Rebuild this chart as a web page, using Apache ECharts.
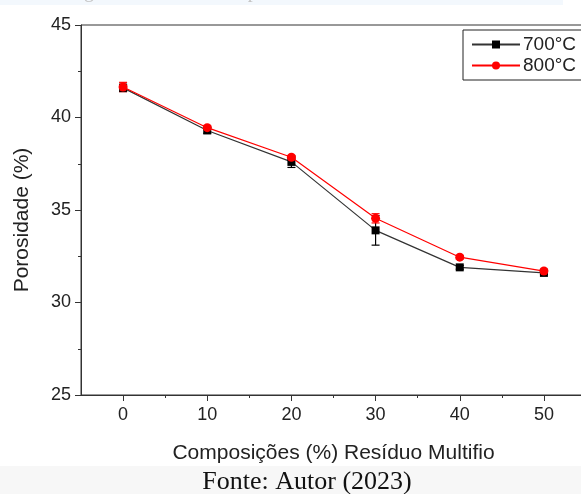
<!DOCTYPE html>
<html><head><meta charset="utf-8">
<script src="https://cdn.jsdelivr.net/npm/echarts@6/dist/echarts.min.js"></script>
<style>html,body{margin:0;padding:0;background:#fff}#c{width:581px;height:494px}</style>
</head><body><div id="c"></div>
<script>
const compositions = [0, 10, 20, 30, 40, 50];
const por700 = [41.6, 39.3, 37.6, 33.9, 31.9, 31.6];
const por800 = [41.65, 39.45, 37.85, 34.55, 32.45, 31.7];
const err700 = [0.2, 0.15, 0.3, 0.8, 0.1, 0.1];
const err800 = [0.25, 0.1, 0.1, 0.25, 0.1, 0.1];
const xMajorTicks = [0, 10, 20, 30, 40, 50];
const xMinorTicks = [5, 15, 25, 35, 45];
const seriesNames = ['700°C', '800°C'];
const xTitle = 'Composições (%) Resíduo Multifio';
const yTitle = 'Porosidade (%)';
const caption = 'Fonte: Autor (2023)';
const topCaption = 'Figura 3: Porosidade aparente das amostras sinterizadas';

const chart = echarts.init(document.getElementById('c'), null, {renderer: 'canvas'});
const font = 'Liberation Sans, Arial, sans-serif';

function pairs(vals) { return compositions.map((x, i) => [x, vals[i]]); }
function errData(vals, errs) { return compositions.map((x, i) => [x, vals[i] - errs[i], vals[i] + errs[i]]); }
function errSeries(vals, errs, color) {
  return {
    type: 'custom', xAxisIndex: 0, yAxisIndex: 0, silent: true, z: 1,
    data: errData(vals, errs),
    renderItem: function (params, api) {
      const lo = api.coord([api.value(0), api.value(1)]);
      const hi = api.coord([api.value(0), api.value(2)]);
      const w = 4;
      const st = {stroke: color, lineWidth: 1.2};
      return {type: 'group', children: [
        {type: 'line', shape: {x1: lo[0], y1: lo[1], x2: hi[0], y2: hi[1]}, style: st},
        {type: 'line', shape: {x1: lo[0] - w, y1: lo[1], x2: lo[0] + w, y2: lo[1]}, style: st},
        {type: 'line', shape: {x1: hi[0] - w, y1: hi[1], x2: hi[0] + w, y2: hi[1]}, style: st}
      ]};
    }
  };
}

const option = {
  animation: false,
  backgroundColor: '#fff',
  graphic: [
    {type: 'rect', shape: {x: 0, y: 0, width: 563, height: 5}, style: {fill: '#f3f8fd'}, z: 0},
    {type: 'text', left: 'center', top: -18, style: {text: topCaption, font: '20px "Liberation Serif", serif', fill: '#c4c4c4'}, z: 1},
    {type: 'rect', shape: {x: 0, y: 466, width: 581, height: 28}, style: {fill: '#f7f7f7'}, z: 0},
    {type: 'text', x: 307, y: 482, style: {text: caption, font: '26px "Liberation Serif", serif', fill: '#111', align: 'center', verticalAlign: 'middle'}, z: 1}
  ],
  grid: {left: 81, top: 25, width: 505, height: 370, outerBoundsMode: 'none', containLabel: false, show: true, borderColor: '#333', borderWidth: 1, backgroundColor: 'transparent'},
  legend: {
    left: 463, top: 30, orient: 'vertical',
    data: seriesNames,
    itemWidth: 48, itemHeight: 10, itemGap: 2,
    padding: [5, 40, 5, 8],
    borderColor: '#222', borderWidth: 1, borderRadius: 0,
    backgroundColor: '#fff',
    textStyle: {fontFamily: font, fontSize: 19, color: '#222', padding: [0, 0, 0, -2]}
  },
  xAxis: [
    {
      type: 'value', min: -5, max: 55,
      name: xTitle, nameLocation: 'middle', nameGap: 48,
      nameTextStyle: {fontFamily: font, fontSize: 21, color: '#222'},
      axisLine: {show: true, onZero: false, lineStyle: {color: '#333', width: 1}},
      axisTick: {show: true, inside: false, length: 6, customValues: xMajorTicks, lineStyle: {color: '#333'}},
      axisLabel: {customValues: xMajorTicks, fontFamily: font, fontSize: 18, color: '#222', margin: 11},
      splitLine: {show: false}
    },
    {
      type: 'value', min: -5, max: 55, position: 'bottom',
      axisLine: {show: false, onZero: false},
      axisTick: {show: true, inside: false, length: 3, customValues: xMinorTicks, lineStyle: {color: '#333'}},
      axisLabel: {show: false},
      splitLine: {show: false}
    }
  ],
  yAxis: {
    type: 'value', min: 25, max: 45, interval: 5,
    name: yTitle, nameLocation: 'middle', nameGap: 48,
    nameTextStyle: {fontFamily: font, fontSize: 21, color: '#222', padding: [0, 20, 0, 0]},
    axisLine: {show: true, onZero: false, lineStyle: {color: '#333', width: 1}},
    axisTick: {show: true, inside: false, length: 6, lineStyle: {color: '#333'}},
    minorTick: {show: true, splitNumber: 2, length: 3, lineStyle: {color: '#333'}},
    axisLabel: {fontFamily: font, fontSize: 18, color: '#222', margin: 10},
    splitLine: {show: false}
  },
  series: [
    errSeries(por700, err700, '#000'),
    errSeries(por800, err800, '#ff0000'),
    {
      name: seriesNames[0], type: 'line', data: pairs(por700), xAxisIndex: 0,
      symbol: 'rect', symbolSize: 8, z: 3,
      lineStyle: {color: '#333', width: 1.2},
      itemStyle: {color: '#000'}
    },
    {
      name: seriesNames[1], type: 'line', data: pairs(por800), xAxisIndex: 0,
      symbol: 'circle', symbolSize: 9, z: 4,
      lineStyle: {color: '#ff0000', width: 1.2},
      itemStyle: {color: '#ff0000'}
    }
  ]
};
chart.setOption(option);
</script></body></html>
